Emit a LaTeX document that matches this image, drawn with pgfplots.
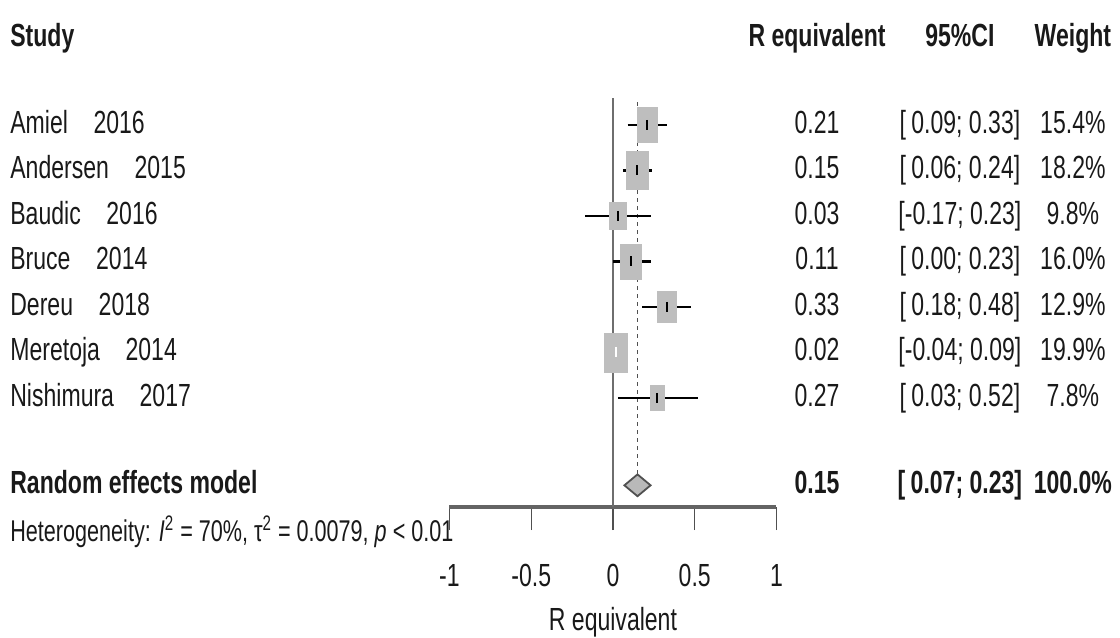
\documentclass[border=0pt]{standalone}
\usepackage{pgfplots}
\usepackage{pgfplotstable}
\usepackage{fontspec}
\pgfplotsset{compat=1.18}
\setmainfont{Liberation Sans}[FakeStretch=0.72]

\definecolor{sqgray}{RGB}{190,190,190}
\definecolor{diagray}{RGB}{185,185,185}
\definecolor{edgegray}{RGB}{80,80,80}
\definecolor{refgray}{RGB}{110,110,110}
\definecolor{axgray}{RGB}{100,100,100}
\definecolor{txt}{RGB}{25,25,25}

% y = -row (row 1 = first study)
\pgfplotstableread{
y     est   lo     hi    w
-1    0.21  0.09   0.33  15.4
-2    0.15  0.06   0.24  18.2
-3    0.03  -0.17  0.23  9.8
-4    0.11  0.00   0.23  16.0
-5    0.33  0.18   0.48  12.9
-6    0.02  -0.04  0.09  19.9
-7    0.27  0.03   0.52  7.8
}\studies

\newcommand{\rowfont}{\fontsize{16}{18}\selectfont}

\begin{document}
\begin{tikzpicture}[font=\rowfont, text=txt,
    every node/.append style={inner sep=0pt, text height=11.6pt, text depth=3.4pt}]
\begin{axis}[
    scale only axis,
    width=163.5pt, height=204.5pt,
    xmin=-1, xmax=1,
    ymin=-9.40, ymax=-0.41,
    clip=false,
    axis x line*=bottom,
    hide y axis,
    x axis line style={line width=1.9pt, axgray},
    xtick={-1,-0.5,0,0.5,1},
    xticklabels={-1,-0.5,0,0.5,1},
    tick align=outside,
    major tick length=11.5pt,
    xtick style={line width=0.7pt, edgegray},
    xticklabel style={font=\rowfont, anchor=center, yshift=-24pt},
    xlabel={R equivalent},
    xlabel style={font=\rowfont, at={(axis description cs:0.5,0)}, anchor=center, yshift=-57.5pt},
]
% frame of the whole figure
\path (axis cs:-3.749,1.747) rectangle (axis cs:3.101,-12.27);

% reference lines
\addplot[refgray, line width=0.6pt] coordinates {(0,-0.41) (0,-9.40)};
\addplot[edgegray, line width=0.6pt, dash pattern=on 2pt off 2pt] coordinates {(0.15,-0.5) (0.15,-8.68)};

% weight squares
\addplot[scatter, only marks, mark=square*,
    scatter/use mapped color={draw=sqgray, fill=sqgray},
    visualization depends on={1.2875*sqrt(\thisrow{w}) \as \half},
    scatter/@pre marker code/.append style={/tikz/mark size=\half pt},
    mark options={yscale=1.7}]
    table[x=est, y=y] {\studies};

% confidence intervals
\addplot[black, line width=0.8pt] coordinates {(0.09,-1) (0.33,-1)};
\addplot[black, line width=1.4pt] coordinates {(0.06,-2) (0.24,-2)};
\addplot[black, line width=1.4pt] coordinates {(-0.17,-3) (0.23,-3)};
\addplot[black, line width=1.4pt] coordinates {(0.00,-4) (0.23,-4)};
\addplot[black, line width=1.4pt] coordinates {(0.18,-5) (0.48,-5)};
\addplot[white, line width=0.8pt] coordinates {(-0.04,-6) (0.09,-6)};
\addplot[black, line width=0.8pt] coordinates {(0.03,-7) (0.52,-7)};

% point estimates
\addplot[only marks, mark=|, mark size=2.5pt, mark options={black, line width=1pt}]
    coordinates {(0.21,-1) (0.15,-2) (0.03,-3) (0.11,-4) (0.33,-5) (0.27,-7)};
\addplot[only marks, mark=|, mark size=2.5pt, mark options={white, line width=1pt}]
    coordinates {(0.02,-6)};

% pooled estimate
\addplot[fill=diagray, draw=edgegray, line width=0.9pt]
    coordinates {(0.07,-8.92) (0.15,-8.68) (0.23,-8.92) (0.15,-9.16)} -- cycle;

% header
\node[anchor=west, font=\rowfont\bfseries] at (axis cs:-3.688,0.91) {Study};
\node[font=\rowfont\bfseries] at (axis cs:1.248,0.91) {R equivalent};
\node[font=\rowfont\bfseries] at (axis cs:2.122,0.91) {95\%CI};
\node[font=\rowfont\bfseries] at (axis cs:2.813,0.91) {Weight};

% study rows
\node[anchor=west] at (axis cs:-3.688,-1) {Amiel\hspace{0.8em}2016};
\node[anchor=west] at (axis cs:-3.688,-2) {Andersen\hspace{0.8em}2015};
\node[anchor=west] at (axis cs:-3.688,-3) {Baudic\hspace{0.8em}2016};
\node[anchor=west] at (axis cs:-3.688,-4) {Bruce\hspace{0.8em}2014};
\node[anchor=west] at (axis cs:-3.688,-5) {Dereu\hspace{0.8em}2018};
\node[anchor=west] at (axis cs:-3.688,-6) {Meretoja\hspace{0.8em}2014};
\node[anchor=west] at (axis cs:-3.688,-7) {Nishimura\hspace{0.8em}2017};

\node at (axis cs:1.248,-1) {0.21};
\node at (axis cs:1.248,-2) {0.15};
\node at (axis cs:1.248,-3) {0.03};
\node at (axis cs:1.248,-4) {0.11};
\node at (axis cs:1.248,-5) {0.33};
\node at (axis cs:1.248,-6) {0.02};
\node at (axis cs:1.248,-7) {0.27};

\node at (axis cs:2.122,-1) {[\,0.09; 0.33]};
\node at (axis cs:2.122,-2) {[\,0.06; 0.24]};
\node at (axis cs:2.122,-3) {[-0.17; 0.23]};
\node at (axis cs:2.122,-4) {[\,0.00; 0.23]};
\node at (axis cs:2.122,-5) {[\,0.18; 0.48]};
\node at (axis cs:2.122,-6) {[-0.04; 0.09]};
\node at (axis cs:2.122,-7) {[\,0.03; 0.52]};

\node at (axis cs:2.813,-1) {15.4\%};
\node at (axis cs:2.813,-2) {18.2\%};
\node at (axis cs:2.813,-3) {9.8\%};
\node at (axis cs:2.813,-4) {16.0\%};
\node at (axis cs:2.813,-5) {12.9\%};
\node at (axis cs:2.813,-6) {19.9\%};
\node at (axis cs:2.813,-7) {7.8\%};

% pooled row
\node[anchor=west, font=\rowfont\bfseries] at (axis cs:-3.688,-8.92) {Random effects model};
\node[font=\rowfont\bfseries] at (axis cs:1.248,-8.92) {0.15};
\node[font=\rowfont\bfseries] at (axis cs:2.122,-8.92) {[\,0.07; 0.23]};
\node[font=\rowfont\bfseries] at (axis cs:2.813,-8.92) {100.0\%};
\node[anchor=west, font=\fontsize{15}{17}\selectfont] at (axis cs:-3.688,-9.97)
    {Heterogeneity: \textit{I}\textsuperscript{2} = 70\%, τ\textsuperscript{2} = 0.0079, \textit{p} < 0.01};
\end{axis}
\end{tikzpicture}
\end{document}
